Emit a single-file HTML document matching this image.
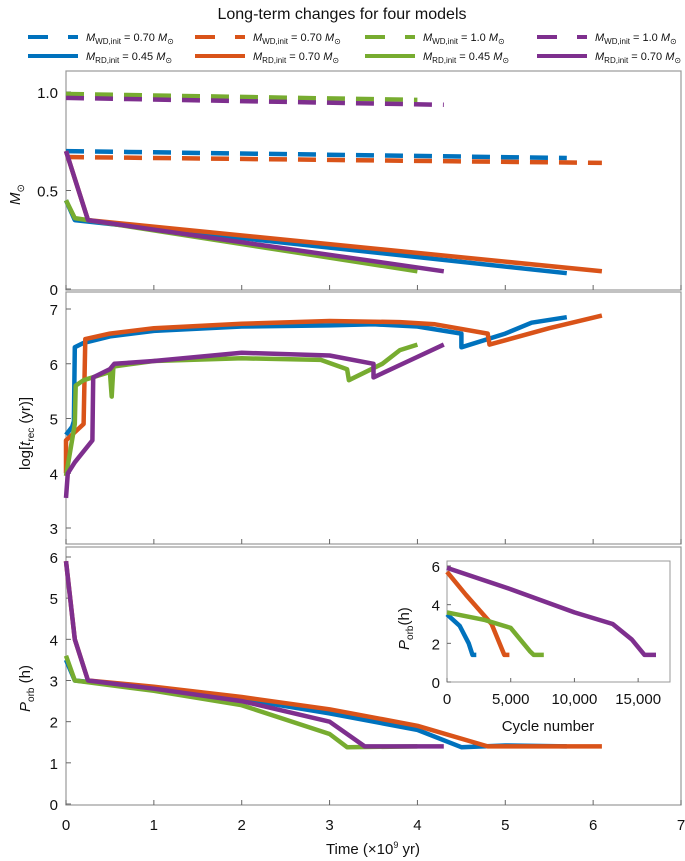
<!DOCTYPE html>
<html><head><meta charset="utf-8">
<style>
body{margin:0;background:#fff;}
svg{display:block;font-family:"Liberation Sans",sans-serif;}
</style></head>
<body>
<svg id="chart" width="685" height="861" viewBox="0 0 685 861" xmlns="http://www.w3.org/2000/svg"></svg>
<script>
// ---- data ----
const colors = ["#0072BD","#D95319","#77AC30","#7E2F8E"];
const modelNames = ["model-a","model-b","model-c","model-d"];
const wdLabels = ["0.70","0.70","1.0","1.0"];
const rdLabels = ["0.45","0.70","0.45","0.70"];
const xTicks = [0,1,2,3,4,5,6,7];
const massTicks = [0,0.5,1.0];
const massTickLabels = ["0","0.5","1.0"];
const logTicks = [3,4,5,6,7];
const porbTicks = [0,1,2,3,4,5,6];
const insetXTicks = [0,5000,10000,15000];
const insetXTickLabels = ["0","5,000","10,000","15,000"];
const insetYTicks = [0,2,4,6];

const wdMassT = [[0,5.7],[0,6.1],[0,4.0],[0,4.3]];
const wdMassV = [[0.70,0.665],[0.67,0.64],[0.99,0.96],[0.97,0.935]];
const rdMassT = [[0,0.1,5.7],[0,0.25,6.1],[0,0.1,4.0],[0,0.25,4.3]];
const rdMassV = [[0.45,0.35,0.08],[0.70,0.35,0.09],[0.45,0.36,0.09],[0.70,0.35,0.09]];

const trecT = [
 [0,0.07,0.09,0.1,0.2,0.5,1,2,3,3.5,4,4.5,4.5,5,5.3,5.7],
 [0,0,0.2,0.22,0.5,1,2,3,3.8,4.2,4.8,4.82,5.5,6.1],
 [0,0.1,0.11,0.2,0.5,0.52,0.54,1,2,2.9,3.2,3.22,3.6,3.8,4.0],
 [0,0.02,0.1,0.3,0.31,0.5,0.55,1,2,3,3.5,3.5,3.9,4.3]];
const trecV = [
 [4.7,4.85,4.95,6.3,6.38,6.5,6.6,6.68,6.7,6.72,6.68,6.55,6.3,6.55,6.75,6.85],
 [4.0,4.6,4.9,6.45,6.55,6.65,6.73,6.78,6.76,6.72,6.55,6.35,6.65,6.88],
 [3.95,4.9,5.6,5.7,5.85,5.4,5.95,6.05,6.1,6.07,5.9,5.7,6.0,6.25,6.35],
 [3.55,4.0,4.2,4.6,5.75,5.9,6.0,6.05,6.2,6.15,6.0,5.75,6.05,6.35]];

const porbT = [
 [0,0.1,1,2,3,4,4.5,5,5.7],
 [0,0.1,0.25,1,2,3,4,4.8,6.1],
 [0,0.1,1,2,3,3.2,4.0],
 [0,0.1,0.25,1,2,3,3.4,4.3]];
const porbV = [
 [3.5,3.0,2.8,2.55,2.2,1.8,1.38,1.42,1.4],
 [5.9,4.0,3.0,2.85,2.6,2.3,1.9,1.4,1.4],
 [3.6,3.0,2.75,2.4,1.7,1.38,1.4],
 [5.9,4.0,3.0,2.8,2.5,2.0,1.4,1.4]];

const cycN = [
 [0,1000,1700,2000,2300],
 [0,1500,3500,4500,4900],
 [0,3000,5000,6500,6800,7600],
 [0,5000,10000,13000,14500,15500,16400]];
const cycP = [
 [3.5,2.9,2.0,1.4,1.4],
 [5.7,4.5,3.0,1.4,1.4],
 [3.6,3.2,2.8,1.6,1.4,1.4],
 [5.9,4.8,3.6,3.0,2.2,1.4,1.4]];

// ---- helpers ----
const svg = document.getElementById('chart');
const NS = "http://www.w3.org/2000/svg";
function mk(tag, attrs, parent){
  const e = document.createElementNS(NS, tag);
  for (const k in attrs) e.setAttribute(k, attrs[k]);
  (parent||svg).appendChild(e);
  return e;
}
const X0=66, X1=681;
const xs = t => X0 + (X1-X0)*t/7;
function yScale(lo,hi,pLo,pHi){ return v => pLo + (pHi-pLo)*(v-lo)/(hi-lo); }
const yM = yScale(0,1,289,92);
const yL = yScale(3,7,528,309);
const yP = yScale(0,6,804,557);
const xi = yScale(0,17500,447,670);
const yi = yScale(0,6,682,566);

function frame(x,y,w,h,name){
  const r = mk('rect',{x:x,y:y,width:w,height:h,fill:'none',stroke:'#999','stroke-width':1.2});
  
  
}
function line(ts, vs, fx, fy, color, dash, name, w){
  const pts = ts.map((t,i)=>fx(t).toFixed(1)+','+fy(vs[i]).toFixed(1)).join(' ');
  const a = {points:pts,fill:'none',stroke:color,'stroke-width':w||4.5,'stroke-linejoin':'round'};
  if (dash) a['stroke-dasharray']=dash;
  const p = mk('polyline',a);
  
  
}
function text(x,y,s,opts,name){
  const t = mk('text',Object.assign({x:x,y:y,'font-size':15,fill:'#111'},opts||{}));
  t.innerHTML = s;
  
  
  return t;
}

// title
text(342,19,"Long-term changes for four models",{'text-anchor':'middle','font-size':16},'chart-title');

// legend
const legX = [28,195,365,537];
for (let i=0;i<4;i++){
  const lx = legX[i];
  const d = mk('line',{x1:lx,y1:37,x2:lx+50,y2:37,stroke:colors[i],'stroke-width':4,'stroke-dasharray':'20 20'});
  
  
  const s = mk('line',{x1:lx,y1:56,x2:lx+50,y2:56,stroke:colors[i],'stroke-width':4});
  
  
  text(lx+58,41,'<tspan font-style="italic">M</tspan><tspan font-size="8" dy="3">WD,init</tspan><tspan dy="-3"> = '+wdLabels[i]+' </tspan><tspan font-style="italic">M</tspan><tspan font-size="8" dy="3">⊙</tspan>',{'font-size':11},'legend-wd-label-'+modelNames[i]);
  text(lx+58,60,'<tspan font-style="italic">M</tspan><tspan font-size="8" dy="3">RD,init</tspan><tspan dy="-3"> = '+rdLabels[i]+' </tspan><tspan font-style="italic">M</tspan><tspan font-size="8" dy="3">⊙</tspan>',{'font-size':11},'legend-rd-label-'+modelNames[i]);
}

// panels frames
frame(X0,71,X1-X0,219,'mass-panel');
frame(X0,292,X1-X0,252,'trec-panel');
frame(X0,547,X1-X0,258,'porb-panel');

function xTickMarks(yb){
  xTicks.forEach(t=>{
    const l = mk('line',{x1:xs(t),y1:yb,x2:xs(t),y2:yb-5,stroke:'#666'});
    
    
  });
}
xTickMarks(290); xTickMarks(544); xTickMarks(805);
xTicks.forEach(t=>text(xs(t),830,String(t),{'text-anchor':'middle'},'x-tick-label'));
text(373,854,'Time (×10<tspan font-size="9" dy="-6">9</tspan><tspan dy="6"> yr)</tspan>',{'text-anchor':'middle'},'x-axis-title');

function yTicks(ticks, labels, fy, name){
  ticks.forEach((v,i)=>{
    const l = mk('line',{x1:X0,y1:fy(v),x2:X0+5,y2:fy(v),stroke:'#666'});
    
    
    text(X0-8,fy(v)+6,labels[i],{'text-anchor':'end'},name+'-tick-label');
  });
}
yTicks(massTicks,massTickLabels,yM,'mass-y');
yTicks(logTicks,logTicks.map(String),yL,'trec-y');
yTicks(porbTicks,porbTicks.map(String),yP,'porb-y');

text(0,0,'<tspan font-style="italic">M</tspan><tspan font-size="10" dy="4">⊙</tspan>',{transform:'translate(20,205) rotate(-90)'},'mass-y-title');
text(0,0,'log[<tspan font-style="italic">t</tspan><tspan font-size="10" dy="4">rec</tspan><tspan dy="-4"> (yr)]</tspan>',{transform:'translate(30,470) rotate(-90)'},'trec-y-title');
text(0,0,'<tspan font-style="italic">P</tspan><tspan font-size="10" dy="4">orb</tspan><tspan dy="-4"> (h)</tspan>',{transform:'translate(30,712) rotate(-90)'},'porb-y-title');

// series
for (let i=0;i<4;i++){
  line(wdMassT[i],wdMassV[i],xs,yM,colors[i],'18 11','wd-mass-'+modelNames[i]);
  line(rdMassT[i],rdMassV[i],xs,yM,colors[i],null,'rd-mass-'+modelNames[i]);
  line(trecT[i],trecV[i],xs,yL,colors[i],null,'trec-'+modelNames[i]);
  line(porbT[i],porbV[i],xs,yP,colors[i],null,'porb-'+modelNames[i]);
}

// inset
const ib = mk('rect',{x:447,y:561,width:223,height:121,fill:'#fff',stroke:'#999'});


insetXTicks.forEach((v,i)=>{
  const l = mk('line',{x1:xi(v),y1:682,x2:xi(v),y2:678,stroke:'#666'});
  
  
  text(xi(v),704,insetXTickLabels[i],{'text-anchor':'middle'},'inset-x-tick-label');
});
insetYTicks.forEach(v=>{
  const l = mk('line',{x1:447,y1:yi(v),x2:451,y2:yi(v),stroke:'#666'});
  
  
  text(440,yi(v)+6,String(v),{'text-anchor':'end'},'inset-y-tick-label');
});
text(548,731,'Cycle number',{'text-anchor':'middle'},'inset-x-title');
text(0,0,'<tspan font-style="italic">P</tspan><tspan font-size="10" dy="4">orb</tspan><tspan dy="-4">(h)</tspan>',{transform:'translate(409,650) rotate(-90)'},'inset-y-title');
for (let i=0;i<4;i++) line(cycN[i],cycP[i],xi,yi,colors[i],null,'inset-porb-'+modelNames[i]);
</script>
</body></html>
